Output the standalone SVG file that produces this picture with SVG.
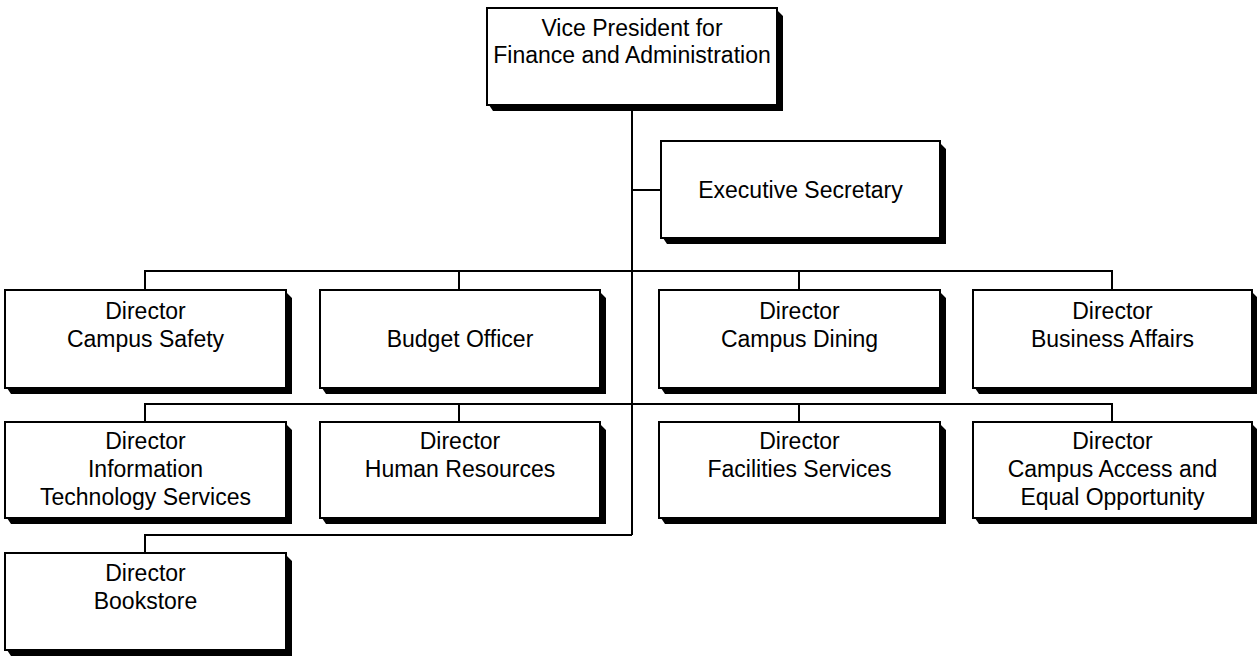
<svg xmlns="http://www.w3.org/2000/svg" width="1257" height="656" viewBox="0 0 1257 656">
<style>
.box{fill:#fff;stroke:#000;stroke-width:2}
.sh{fill:#000}
.t{font-family:"Liberation Sans",Arial,sans-serif;font-size:23px;fill:#000;text-anchor:middle}
.c{fill:none;stroke:#000;stroke-width:2}
</style>
<rect width="1257" height="656" fill="#fff"/>
<g id="connectors">
<path class="c" d="M632,105 V535 M632,190 H661"/>
<path class="c" d="M145,290 V271 H1112 V290 M459,271 V290 M799,271 V290"/>
<path class="c" d="M145,422 V404 H1112 V422 M459,404 V422 M799,404 V422"/>
<path class="c" d="M145,553 V535 H632"/>
</g>
<g id="vp">
<polygon class="sh" points="777,10 783,16 783,111 493,111 489,105 777,105"/>
<rect class="box" x="487" y="8" width="290" height="97"/>
<text class="t" x="632" y="36">Vice President for</text>
<text class="t" x="632" y="63">Finance and Administration</text>
</g>
<g id="exec-secretary">
<polygon class="sh" points="940,143 946,149 946,244 667,244 663,238 940,238"/>
<rect class="box" x="661" y="141" width="279" height="97"/>
<text class="t" x="800.5" y="198">Executive Secretary</text>
</g>
<g id="campus-safety">
<polygon class="sh" points="286,292 292,298 292,394 11,394 7,388 286,388"/>
<rect class="box" x="5" y="290" width="281" height="98"/>
<text class="t" x="145.5" y="319">Director</text>
<text class="t" x="145.5" y="347">Campus Safety</text>
</g>
<g id="budget-officer">
<polygon class="sh" points="600,292 606,298 606,394 326,394 322,388 600,388"/>
<rect class="box" x="320" y="290" width="280" height="98"/>
<text class="t" x="460" y="347">Budget Officer</text>
</g>
<g id="campus-dining">
<polygon class="sh" points="940,292 946,298 946,394 665,394 661,388 940,388"/>
<rect class="box" x="659" y="290" width="281" height="98"/>
<text class="t" x="799.5" y="319">Director</text>
<text class="t" x="799.5" y="347">Campus Dining</text>
</g>
<g id="business-affairs">
<polygon class="sh" points="1252,292 1258,298 1258,394 979,394 975,388 1252,388"/>
<rect class="box" x="973" y="290" width="279" height="98"/>
<text class="t" x="1112.5" y="319">Director</text>
<text class="t" x="1112.5" y="347">Business Affairs</text>
</g>
<g id="it-services">
<polygon class="sh" points="286,424 292,430 292,524 11,524 7,518 286,518"/>
<rect class="box" x="5" y="422" width="281" height="96"/>
<text class="t" x="145.5" y="449">Director</text>
<text class="t" x="145.5" y="477">Information</text>
<text class="t" x="145.5" y="505">Technology Services</text>
</g>
<g id="human-resources">
<polygon class="sh" points="600,424 606,430 606,524 326,524 322,518 600,518"/>
<rect class="box" x="320" y="422" width="280" height="96"/>
<text class="t" x="460" y="449">Director</text>
<text class="t" x="460" y="477">Human Resources</text>
</g>
<g id="facilities-services">
<polygon class="sh" points="940,424 946,430 946,524 665,524 661,518 940,518"/>
<rect class="box" x="659" y="422" width="281" height="96"/>
<text class="t" x="799.5" y="449">Director</text>
<text class="t" x="799.5" y="477">Facilities Services</text>
</g>
<g id="campus-access">
<polygon class="sh" points="1252,424 1258,430 1258,524 979,524 975,518 1252,518"/>
<rect class="box" x="973" y="422" width="279" height="96"/>
<text class="t" x="1112.5" y="449">Director</text>
<text class="t" x="1112.5" y="477">Campus Access and</text>
<text class="t" x="1112.5" y="505">Equal Opportunity</text>
</g>
<g id="bookstore">
<polygon class="sh" points="286,555 292,561 292,656 11,656 7,650 286,650"/>
<rect class="box" x="5" y="553" width="281" height="97"/>
<text class="t" x="145.5" y="581">Director</text>
<text class="t" x="145.5" y="609">Bookstore</text>
</g>
</svg>
